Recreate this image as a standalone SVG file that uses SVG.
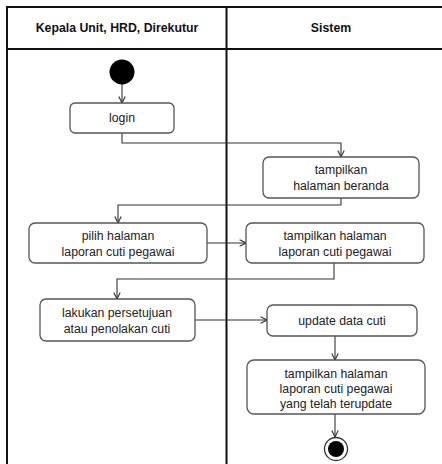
<svg xmlns="http://www.w3.org/2000/svg" width="442" height="464" viewBox="0 0 442 464">
  <style>
    .frame { fill: none; stroke: #111; stroke-width: 2; }
    .act { fill: #fff; stroke: #555; stroke-width: 1.3; }
    .lbl { font-family: "Liberation Sans", Arial, sans-serif; font-size: 12.3px; fill: #222; text-anchor: middle; }
    .hdr { font-family: "Liberation Sans", Arial, sans-serif; font-size: 12.3px; font-weight: bold; fill: #111; text-anchor: middle; }
    .flow { fill: none; stroke: #333; stroke-width: 1.1; marker-end: url(#arr); }
  </style>
  <defs>
    <marker id="arr" viewBox="0 0 10 10" refX="9" refY="5" markerWidth="8" markerHeight="8" markerUnits="userSpaceOnUse" orient="auto">
      <path d="M1 1 L9 5 L1 9" fill="none" stroke="#333" stroke-width="1.4"/>
    </marker>
  </defs>
  <rect width="442" height="464" fill="#fff"/>

  <!-- swimlanes -->
  <g id="lanes">
    <path class="frame" d="M7 470 V7 H450 M7 49 H450 M226.5 7 V470"/>
    <text class="hdr" x="117" y="32">Kepala Unit, HRD, Direkutur</text>
    <text class="hdr" x="331" y="32">Sistem</text>
  </g>

  <!-- connectors -->
  <g id="connectors">
    <path class="flow" d="M122 84 V103"/>
    <path class="flow" d="M122 133 V143 H341 V157"/>
    <path class="flow" d="M341 198 V205 H118 V223"/>
    <path class="flow" d="M207 243 H246"/>
    <path class="flow" d="M334 263 V279 H117 V299"/>
    <path class="flow" d="M195 320 H267"/>
    <path class="flow" d="M335 336 V360"/>
    <path class="flow" d="M335 414 V437"/>
  </g>

  <g id="start">
    <circle cx="122" cy="72" r="12.5" fill="#000"/>
  </g>

  <g id="login">
    <rect class="act" x="70" y="103" width="104" height="30" rx="5"/>
    <text class="lbl" x="122" y="122">login</text>
  </g>

  <g id="beranda">
    <rect class="act" x="263" y="157" width="156" height="41" rx="6"/>
    <text class="lbl" x="341" y="174">tampilkan</text>
    <text class="lbl" x="341" y="190">halaman beranda</text>
  </g>

  <g id="pilih">
    <rect class="act" x="29" y="223" width="178" height="40" rx="6"/>
    <text class="lbl" x="118" y="240">pilih halaman</text>
    <text class="lbl" x="118" y="256">laporan cuti pegawai</text>
  </g>

  <g id="tampil-laporan">
    <rect class="act" x="246" y="223" width="178" height="40" rx="6"/>
    <text class="lbl" x="335" y="240">tampilkan halaman</text>
    <text class="lbl" x="335" y="256">laporan cuti pegawai</text>
  </g>

  <g id="persetujuan">
    <rect class="act" x="40" y="299" width="155" height="42" rx="6"/>
    <text class="lbl" x="117" y="317">lakukan persetujuan</text>
    <text class="lbl" x="117" y="333">atau penolakan cuti</text>
  </g>

  <g id="update">
    <rect class="act" x="267" y="305" width="150" height="31" rx="6"/>
    <text class="lbl" x="342" y="325">update data cuti</text>
  </g>

  <g id="tampil-terupdate">
    <rect class="act" x="247" y="360" width="178" height="54" rx="7"/>
    <text class="lbl" x="336" y="378">tampilkan halaman</text>
    <text class="lbl" x="336" y="393">laporan cuti pegawai</text>
    <text class="lbl" x="336" y="408">yang telah terupdate</text>
  </g>

  <g id="end">
    <circle cx="336" cy="449" r="11.5" fill="#fff" stroke="#333" stroke-width="1.3"/>
    <circle cx="336" cy="449" r="8" fill="#000"/>
  </g>
</svg>
